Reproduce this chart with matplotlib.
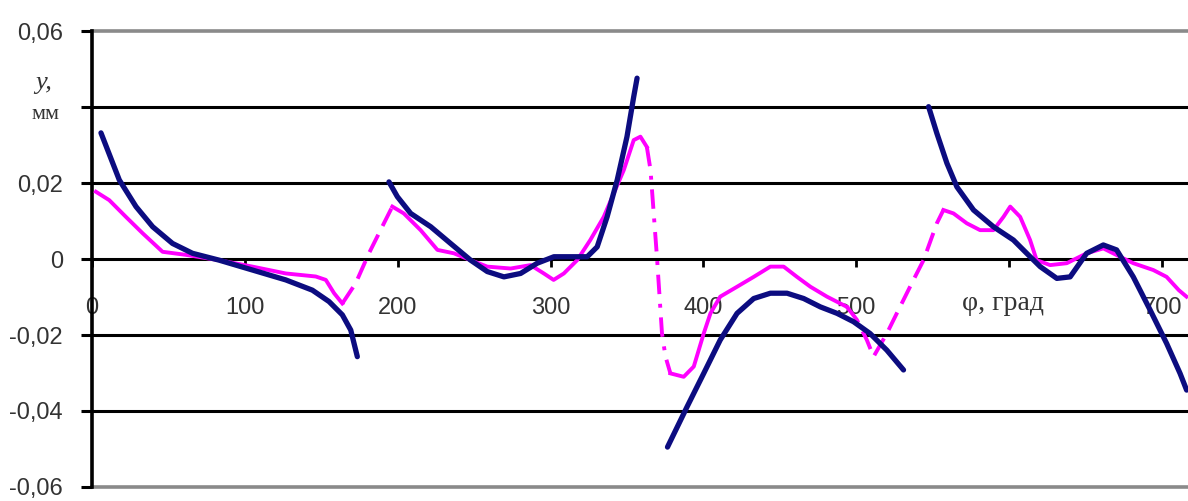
import matplotlib
matplotlib.use('Agg')
import matplotlib.pyplot as plt

# ---- data (phi in degrees, y in mm) ----
# dark blue curve, four separate pieces
blue1_x = [5.9, 17.9, 28.8, 39.7, 52.7, 65.8, 83.2, 105, 126.8, 144.2, 155.1, 163.8, 169.3, 173.6]
blue1_y = [0.0332, 0.0208, 0.0138, 0.0085, 0.0041, 0.0015, -0.0003, -0.0029, -0.0055, -0.0082,
           -0.0112, -0.0147, -0.0187, -0.0257]

blue2_x = [194.3, 199.8, 208.5, 221.6, 234.6, 247.7, 258.6, 269.5, 280.4, 291.3, 302.2, 313, 324,
           330.5, 337, 343.6, 350, 354.4, 356.6]
blue2_y = [0.0203, 0.0164, 0.012, 0.0085, 0.0041, -0.0003, -0.0033, -0.0047, -0.0038, -0.0011,
           0.0006, 0.0006, 0.0006, 0.0032, 0.0111, 0.0208, 0.0322, 0.0427, 0.0476]

blue3_x = [376.5, 389.3, 400.2, 411, 422, 432.9, 443.8, 454.7, 465.6, 476.5, 487.4, 498.2, 509, 520, 530.9]
blue3_y = [-0.0495, -0.0389, -0.0301, -0.0213, -0.0143, -0.0104, -0.009, -0.009, -0.0104, -0.0126,
           -0.0143, -0.0165, -0.0196, -0.024, -0.0292]

blue4_x = [547.3, 552.7, 559.3, 565.8, 576.7, 589.7, 602.8, 611.5, 620.3, 631.2, 639.9, 650.7, 661.6,
           670.3, 681.2, 692.2, 703, 711.8, 716.1]
blue4_y = [0.0401, 0.0331, 0.0252, 0.019, 0.0129, 0.0085, 0.005, 0.0015, -0.002, -0.0051, -0.0047,
           0.0015, 0.0037, 0.0024, -0.0047, -0.0134, -0.0222, -0.0301, -0.0345]

# magenta curve: solid pieces
mag1_x = [2.6, 11.3, 22.2, 33.1, 46.2, 61.4, 83, 105, 126.8, 146.4, 153, 158.4, 163.8]
mag1_y = [0.0177, 0.0155, 0.0111, 0.0068, 0.0019, 0.0011, -0.0003, -0.002, -0.0038, -0.0046,
          -0.0055, -0.009, -0.0117]

mag2_x = [196.5, 204, 215, 226, 236.8, 247.7, 258.6, 273.9, 286.9, 295.6, 302, 308.7, 317.4, 326,
          334.8, 341.4, 347.9, 354.4, 358.8, 363]
mag2_y = [0.0138, 0.012, 0.0076, 0.0024, 0.0015, -0.0003, -0.002, -0.0025, -0.0016, -0.0038,
          -0.0055, -0.0038, -0.0003, 0.005, 0.0111, 0.0173, 0.0234, 0.0313, 0.0322, 0.0295]

mag3_x = [378.4, 387.1, 393.7, 400.2, 404.6, 411, 422, 432.9, 443.8, 452.5, 461.2, 470, 480.8, 493.9]
mag3_y = [-0.0301, -0.031, -0.0283, -0.0196, -0.0143, -0.0099, -0.0073, -0.0047, -0.002, -0.002,
          -0.0047, -0.0073, -0.0099, -0.0126]

mag4_x = [557, 563.6, 572.3, 581, 589.7, 596.3, 600.7, 607.2, 613.7, 618, 626.8, 637.7, 650.7,
          661.6, 672.5, 681.2, 694.3, 703, 711, 716]
mag4_y = [0.0129, 0.012, 0.0094, 0.0076, 0.0076, 0.0111, 0.0138, 0.0111, 0.005, -0.0003, -0.0016,
          -0.0011, 0.0015, 0.0028, 0.0006, -0.0011, -0.0029, -0.0047, -0.0082, -0.0099]

# magenta curve: dashed jumps between the solid pieces
jump1_x = [163.8, 172.5, 181.2, 191, 196.5]
jump1_y = [-0.0117, -0.0064, 0.0015, 0.0094, 0.0138]
jump2_x = [363, 365.4, 369.7, 372.9, 375.2, 378.4]
jump2_y = [0.0295, 0.0234, 0.0, -0.0196, -0.0257, -0.0301]
jump3_x = [493.9, 500.4, 506.9, 511.3, 520, 526.5, 537.4, 544, 552.7, 557]
jump3_y = [-0.0126, -0.016, -0.0213, -0.0257, -0.0196, -0.0143, -0.0055, -0.0003, 0.0094, 0.0129]

x_ticks = [0, 100, 200, 300, 400, 500, 600, 700]
x_tick_labels = ['0', '100', '200', '300', '400', '500', '', '700']
y_ticks = [-0.06, -0.04, -0.02, 0, 0.02, 0.04, 0.06]
y_tick_labels = ['-0,06', '-0,04', '-0,02', '0', '0,02', '', '0,06']

BLUE = '#0c0c80'
MAGENTA = '#ff00ff'
TXT = '#333333'

fig = plt.figure(figsize=(11.88, 5.01), dpi=100)
ax = fig.add_axes([0.0774, 0.028, 1 - 0.0774, 0.91])
ax.set_xlim(0, 717)
ax.set_ylim(-0.06, 0.06)

# horizontal grid lines, the outer ones are gray
for yv in [-0.04, -0.02, 0.02, 0.04]:
    ax.axhline(yv, color='black', lw=2.2, zorder=1)
ax.axhline(0.06, color='#8a8a8a', lw=2.6, zorder=1, clip_on=False)
ax.axhline(-0.06, color='#8a8a8a', lw=2.6, zorder=1, clip_on=False)

for side in ['top', 'right']:
    ax.spines[side].set_visible(False)
ax.spines['left'].set_linewidth(2.6)
ax.spines['bottom'].set_position(('data', 0))
ax.spines['bottom'].set_linewidth(2.2)

ax.set_xticks(x_ticks)
ax.set_xticklabels(x_tick_labels, fontfamily='Liberation Sans', fontsize=17, color=TXT)
ax.set_yticks(y_ticks)
ax.set_yticklabels(y_tick_labels, fontfamily='Liberation Sans', fontsize=17, color=TXT)
ax.tick_params(axis='x', direction='out', length=6, width=2, pad=21)
ax.tick_params(axis='y', direction='out', length=8, width=2.2, pad=13)

# curves
for xs, ys in [(blue1_x, blue1_y), (blue2_x, blue2_y), (blue3_x, blue3_y), (blue4_x, blue4_y)]:
    ax.plot(xs, ys, color=BLUE, lw=3.8, solid_capstyle='round', solid_joinstyle='round', zorder=4)

for xs, ys in [(mag1_x, mag1_y), (mag2_x, mag2_y), (mag3_x, mag3_y), (mag4_x, mag4_y)]:
    ax.plot(xs, ys, color=MAGENTA, lw=2.8, solid_joinstyle='round', zorder=3)

ax.plot(jump1_x, jump1_y, color=MAGENTA, lw=2.8, dashes=(5, 2.5), zorder=3)
ax.plot(jump2_x, jump2_y, color=MAGENTA, lw=2.8, dashes=(5, 2.5, 1, 2.5), zorder=3)
ax.plot(jump3_x, jump3_y, color=MAGENTA, lw=2.8, dashes=(5, 2.5), zorder=3)

# axis titles written inside the chart like in the original
ax.text(596, -0.0118, 'φ, град', fontfamily='Liberation Serif', fontsize=20,
        ha='center', va='center', color=TXT)
fig.text(0.037, 0.835, 'y,', fontfamily='Liberation Serif', fontstyle='italic', fontsize=19,
         ha='center', va='center', color=TXT)
fig.text(0.038, 0.772, 'мм', fontfamily='Liberation Serif', fontsize=16,
         ha='center', va='center', color=TXT)

fig.savefig('out.png', dpi=100)
